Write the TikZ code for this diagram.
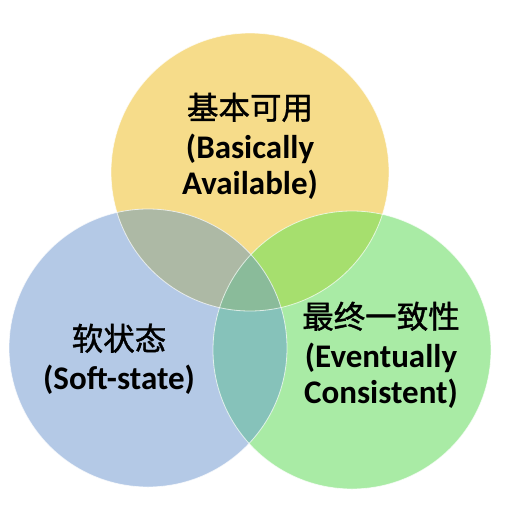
\documentclass[tikz,border=0pt]{standalone}
\usepackage{fontspec}
\setmainfont{Carlito}
\newfontfamily\cjk[FakeBold=1.3]{Noto Sans CJK SC}
\definecolor{cyel}{HTML}{F6DC8A}
\definecolor{cblu}{HTML}{B4C9E6}
\definecolor{cgrn}{HTML}{A9EBA5}
\definecolor{cyb}{HTML}{ADB9A5}
\definecolor{cyg}{HTML}{A6DF6E}
\definecolor{cbg}{HTML}{86C2BA}
\definecolor{cybg}{HTML}{8ABB9A}
\newcommand{\zhtxt}[1]{{\cjk\mdseries\fontsize{31.5}{36}\selectfont #1}}
\begin{document}
\begin{tikzpicture}[x=1pt,y=-1pt,
  lbl/.style={align=center,text=black,font=\bfseries\fontsize{33}{36}\selectfont},
  rim/.style={draw=white,line width=0.8pt,opacity=0.7}]
\useasboundingbox[fill=white] (0,0) rectangle (512,520);
\coordinate (Y) at (250,172);
\coordinate (B) at (148,348);
\coordinate (G) at (352,350);
\def\R{139pt}
\fill[cyel] (Y) circle (\R);
\fill[cblu] (B) circle (\R);
\fill[cgrn] (G) circle (\R);
\begin{scope}
  \clip (Y) circle (\R);
  \fill[cyb] (B) circle (\R);
  \fill[cyg] (G) circle (\R);
\end{scope}
\begin{scope}
  \clip (B) circle (\R);
  \fill[cbg] (G) circle (\R);
  \clip (G) circle (\R);
  \fill[cybg] (Y) circle (\R);
\end{scope}
\draw[rim] (Y) circle (\R);
\draw[rim] (B) circle (\R);
\draw[rim] (G) circle (\R);
\node[lbl] (ba) at (250,146) {\zhtxt{基本可用}\\[3pt](Basically\\Available)};
\node[lbl] (ss) at (119,359) {\zhtxt{软状态}\\[3pt](Soft-state)};
\node[lbl] (ec) at (381,355) {\zhtxt{最终一致性}\\[3pt](Eventually\\Consistent)};
\end{tikzpicture}
\end{document}
